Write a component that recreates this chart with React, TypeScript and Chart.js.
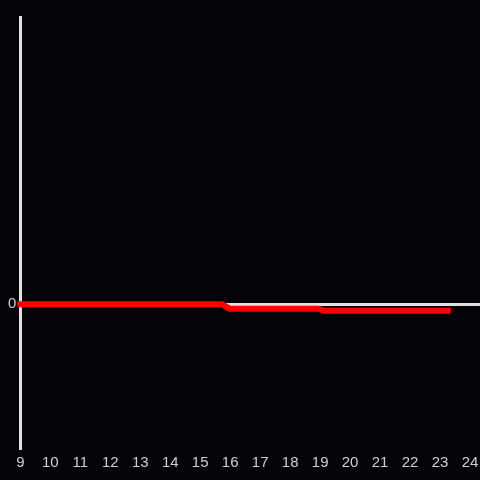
import React, { useEffect, useRef } from "react";
import { Chart, registerables } from "chart.js";

Chart.register(...registerables);

const xValues: number[] = [9, 15.73, 15.98, 18.93, 19.15, 23.26];
const yValues: number[] = [0, 0, -0.3, -0.3, -0.45, -0.45];
const xTickValues: number[] = [9, 10, 11, 12, 13, 14, 15, 16, 17, 18, 19, 20, 21, 22, 23, 24];
const yTickValues: number[] = [0];

export default function App() {
  const ref = useRef<HTMLCanvasElement | null>(null);
  useEffect(() => {
    if (!ref.current) return;
    const data = xValues.map((x, i) => ({ x, y: yValues[i] }));
    const font = { size: 15, family: "'Liberation Sans', Arial, sans-serif" };
    const chart = new Chart(ref.current, {
      type: "line",
      data: {
        datasets: [
          {
            data,
            borderColor: "#ff0000",
            backgroundColor: "#ff0000",
            borderWidth: 6,
            pointRadius: 0,
            tension: 0,
            borderCapStyle: "square",
            borderJoinStyle: "miter",
            clip: 4,
          },
        ],
      },
      options: {
        animation: false,
        responsive: false,
        maintainAspectRatio: false,
        layout: { padding: { left: 4, top: 17, right: 0, bottom: 2 } },
        plugins: { legend: { display: false }, tooltip: { enabled: false } },
        scales: {
          x: {
            type: "linear",
            min: 9,
            max: 24.333,
            afterBuildTicks: (axis: any) => {
              axis.ticks = xTickValues.map((value) => ({ value }));
            },
            afterFit: (axis: any) => {
              axis.paddingLeft = 0;
              axis.paddingRight = 0;
            },
            grid: { display: false, drawTicks: false },
            border: { display: false },
            ticks: {
              color: "#d0d0d0",
              padding: 6,
              maxRotation: 0,
              autoSkip: false,
              font,
            },
          },
          y: {
            type: "linear",
            min: -10,
            max: 20,
            afterBuildTicks: (axis: any) => {
              axis.ticks = yTickValues.map((value) => ({ value }));
            },
            afterFit: (axis: any) => {
              axis.paddingTop = 0;
              axis.paddingBottom = 0;
            },
            grid: { color: "#e0e0e0", lineWidth: 3, drawTicks: false },
            border: { display: true, color: "#e0e0e0", width: 3 },
            ticks: {
              color: "#d0d0d0",
              padding: 4,
              font,
            },
          },
        },
      },
    });
    return () => chart.destroy();
  }, []);
  return (
    <div
      style={{
        position: "fixed",
        left: 0,
        top: 0,
        width: 480,
        height: 480,
        background: "#050307",
      }}
    >
      <canvas ref={ref} width={480} height={480} style={{ display: "block" }} />
    </div>
  );
}
